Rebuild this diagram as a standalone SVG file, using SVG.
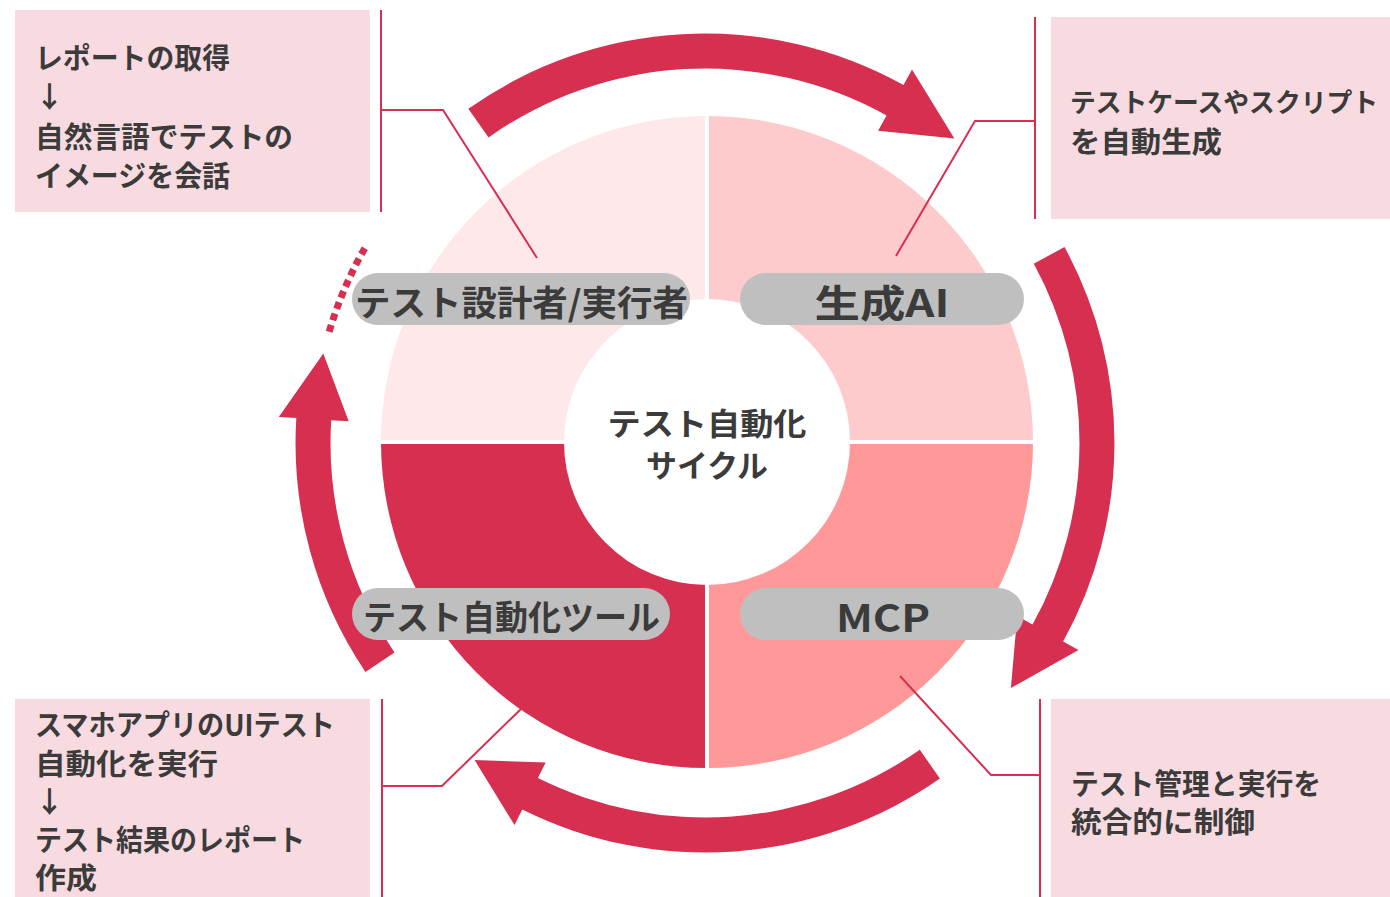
<svg xmlns="http://www.w3.org/2000/svg" width="1390" height="897" viewBox="0 0 1390 897">
<style>
.t{font-family:"Noto Sans CJK JP","Noto Sans",sans-serif;font-weight:bold;fill:#3B3B3B;dominant-baseline:central}
.bt{font-size:29px}
.box{fill:#F8DBE0}
.pill{fill:#BFBFBF}
.arr{fill:#D72F50}
.ln{fill:none;stroke:#D72F50;stroke-width:2}
</style>
<rect width="1390" height="897" fill="#ffffff"/>
<g id="cycle-arrows">
<path class="arr" d="M468.3,108.8 A409.5,409.5 0 0 1 903.5,84.9 L912.0,69.5 L954.4,138.5 L878.1,130.8 L886.6,115.5 A374.5,374.5 0 0 0 488.6,137.4 Z"/>
<path class="arr" d="M1064.5,247.0 A409.5,409.5 0 0 1 1063.1,641.5 L1078.5,650.0 L1010.9,688.1 L1017.2,616.1 L1032.5,624.6 A374.5,374.5 0 0 0 1033.8,263.7 Z"/>
<path class="arr" d="M939.9,778.5 A409.5,409.5 0 0 1 522.3,809.5 L514.5,825.1 L474.6,760.1 L545.7,762.5 L537.9,778.1 A374.5,374.5 0 0 0 919.8,749.8 Z"/>
<path class="arr" d="M365.5,672.0 A409.5,409.5 0 0 1 296.3,418.0 L278.8,417.0 L323.3,353.5 L348.7,421.2 L331.2,420.2 A374.5,374.5 0 0 0 394.5,652.4 Z"/>
<path d="M329.2,331.7 A392,392 0 0 1 366.5,245.2" fill="none" stroke="#D72F50" stroke-width="7" stroke-dasharray="7 5"/>
</g>
<g id="pie">
<path d="M707,442 L381,442 A326,326 0 0 1 707,116 Z" fill="#FEE8E9"/>
<path d="M707,442 L707,116 A326,326 0 0 1 1033,442 Z" fill="#FDCBCB"/>
<path d="M707,442 L1033,442 A326,326 0 0 1 707,768 Z" fill="#FF9999"/>
<path d="M707,442 L707,768 A326,326 0 0 1 381,442 Z" fill="#D72F50"/>
<line x1="707" y1="110" x2="707" y2="775" stroke="#ffffff" stroke-width="4"/>
<line x1="375" y1="442" x2="1040" y2="442" stroke="#ffffff" stroke-width="4"/>
</g>
<g id="center">
<circle cx="707" cy="442" r="143" fill="#ffffff"/>
<text class="t" x="707" y="421" font-size="31" text-anchor="middle" textLength="199" lengthAdjust="spacingAndGlyphs">テスト自動化</text>
<text class="t" x="707" y="463" font-size="31" text-anchor="middle" textLength="122" lengthAdjust="spacingAndGlyphs">サイクル</text>
</g>
<g id="pill-designer">
<rect class="pill" x="352" y="273" width="338" height="52" rx="26"/>
<text class="t" x="355" y="300" font-size="35" textLength="333" lengthAdjust="spacingAndGlyphs">テスト設計者/実行者</text>
</g>
<g id="pill-genai">
<rect class="pill" x="740" y="273" width="284" height="52" rx="26"/>
<text class="t" x="882" y="300" font-size="38" text-anchor="middle" textLength="135" lengthAdjust="spacingAndGlyphs">生成AI</text>
</g>
<g id="pill-tool">
<rect class="pill" x="352" y="588" width="318" height="52" rx="26"/>
<text class="t" x="363" y="615" font-size="34" textLength="297" lengthAdjust="spacingAndGlyphs">テスト自動化ツール</text>
</g>
<g id="pill-mcp">
<rect class="pill" x="740" y="588" width="284" height="52" rx="26"/>
<text class="t" x="883" y="615" font-size="38" text-anchor="middle" textLength="94" lengthAdjust="spacingAndGlyphs">MCP</text>
</g>
<g id="box-tl">
<rect class="box" x="15" y="10" width="355" height="202"/>
<text class="t bt" x="35" y="56" textLength="195" lengthAdjust="spacingAndGlyphs">レポートの取得</text>
<text class="t bt" x="35" y="95">↓</text>
<text class="t bt" x="35" y="135" textLength="258" lengthAdjust="spacingAndGlyphs">自然言語でテストの</text>
<text class="t bt" x="35" y="174" textLength="195" lengthAdjust="spacingAndGlyphs">イメージを会話</text>
</g>
<g id="box-tr">
<rect class="box" x="1051" y="17" width="339" height="202"/>
<text class="t" x="1070" y="100" font-size="26.5" textLength="308" lengthAdjust="spacingAndGlyphs">テストケースやスクリプト</text>
<text class="t bt" x="1070" y="140" textLength="152" lengthAdjust="spacingAndGlyphs">を自動生成</text>
</g>
<g id="box-bl">
<rect class="box" x="15" y="699" width="355" height="198"/>
<text class="t bt" x="35" y="723" textLength="300" lengthAdjust="spacingAndGlyphs">スマホアプリのUIテスト</text>
<text class="t bt" x="35" y="762" textLength="183" lengthAdjust="spacingAndGlyphs">自動化を実行</text>
<text class="t bt" x="35" y="800">↓</text>
<text class="t bt" x="35" y="838" textLength="270" lengthAdjust="spacingAndGlyphs">テスト結果のレポート</text>
<text class="t bt" x="35" y="876" textLength="62" lengthAdjust="spacingAndGlyphs">作成</text>
</g>
<g id="box-br">
<rect class="box" x="1051" y="699" width="339" height="198"/>
<text class="t bt" x="1071" y="782" textLength="250" lengthAdjust="spacingAndGlyphs">テスト管理と実行を</text>
<text class="t bt" x="1071" y="820" textLength="184" lengthAdjust="spacingAndGlyphs">統合的に制御</text>
</g>
<g id="connectors">
<line class="ln" x1="381" y1="10" x2="381" y2="212"/>
<polyline class="ln" points="381,110 443,110 537,258"/>
<line class="ln" x1="1035" y1="17" x2="1035" y2="219"/>
<polyline class="ln" points="1035,121 975,121 896,256"/>
<line class="ln" x1="382" y1="699" x2="382" y2="897"/>
<polyline class="ln" points="382,786 442,786 521,709"/>
<line class="ln" x1="1040" y1="699" x2="1040" y2="897"/>
<polyline class="ln" points="1040,775 991,775 900,676"/>
</g>
</svg>
